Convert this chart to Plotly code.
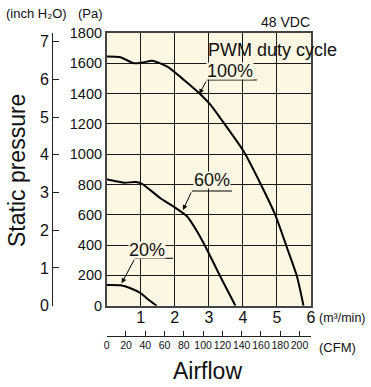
import plotly.graph_objects as go

# airflow (m3/min) and static pressure (Pa)
flow_100 = [0.0, 0.4, 0.8, 1.05, 1.34, 1.78, 2.27, 2.72, 3.05, 3.34, 4.03, 4.51, 4.95, 5.3, 5.59, 5.78]
pa_100 = [1645, 1640, 1600, 1605, 1617, 1578, 1490, 1402, 1325, 1237, 1016, 808, 599, 379, 191, 0]

flow_60 = [0.0, 0.25, 0.51, 0.86, 1.05, 1.58, 1.97, 2.37, 2.66, 2.95, 3.34, 3.78]
pa_60 = [834, 822, 812, 816, 803, 709, 653, 587, 488, 368, 191, 0]

flow_20 = [0.0, 0.41, 0.7, 1.0, 1.24, 1.47]
pa_20 = [137, 135, 115, 82, 38, 0]

pa_ticks = [0, 200, 400, 600, 800, 1000, 1200, 1400, 1600, 1800]
inch_ticks = [0, 1, 2, 3, 4, 5, 6, 7]
m3_ticks = [1, 2, 3, 4, 5, 6]
cfm_ticks = [0, 20, 40, 60, 80, 100, 120, 140, 160, 180, 200]

PA_PER_INCH = 249.089
M3_PER_CFM = 0.0283168

CREAM = '#fcf7e3'
SANS = 'Liberation Sans, Arial, sans-serif'

W, H = 371, 387
ML, MR, MT, MB = 45, 60, 33, 20
PW, PH = W - ML - MR, H - MT - MB


def px(x):
    return (x - ML) / PW


def py(y):
    return (H - MB - y) / PH


fig = go.Figure()
for fx, fy in [(flow_100, pa_100), (flow_60, pa_60), (flow_20, pa_20)]:
    fig.add_trace(go.Scatter(x=fx, y=fy, mode='lines', line=dict(color='black', width=2, shape='spline', smoothing=0.6),
                             hoverinfo='skip'))

# empty traces so the CFM axis (x2/y3) and the inch H2O axis (x3/y2) get drawn
fig.add_trace(go.Scatter(x=[None], y=[None], xaxis='x2', yaxis='y3', hoverinfo='skip'))
fig.add_trace(go.Scatter(x=[None], y=[None], xaxis='x3', yaxis='y2', hoverinfo='skip'))

x0 = (106.7 - ML) / PW
y0 = (H - MB - 305.7) / PH
xin = px(53)
ycfm = py(335.7)
TINY = 0.0005

fig.update_layout(
    width=W, height=H,
    margin=dict(l=ML, r=MR, t=MT, b=MB),
    paper_bgcolor='white', plot_bgcolor=CREAM,
    showlegend=False,
    xaxis=dict(domain=[x0, 1], range=[0, 6], tickvals=m3_ticks, showgrid=True, gridcolor='#1a1a1a', gridwidth=1,
               showline=True, linecolor='#444', linewidth=1.5, mirror=True, zeroline=False, ticks='',
               tickfont=dict(family=SANS, size=16, color='#111'), ticklabelstandoff=-4),
    yaxis=dict(domain=[y0, 1], range=[0, 1800], tickvals=pa_ticks, showgrid=True, gridcolor='#1a1a1a', gridwidth=1,
               showline=True, linecolor='#444', linewidth=1.5, mirror=True, zeroline=False, ticks='',
               tickfont=dict(family=SANS, size=14.5, color='#111')),
    # CFM axis
    xaxis2=dict(anchor='y3', domain=[x0, 1], range=[0, 6 / M3_PER_CFM], tickvals=cfm_ticks, side='bottom',
                showgrid=False, zeroline=False, showline=True, linecolor='#222', linewidth=1,
                ticks='inside', ticklen=5, tickcolor='#222', tickangle=0,
                tickfont=dict(family=SANS, size=10.5, color='#111')),
    yaxis3=dict(anchor='x2', domain=[ycfm, ycfm + TINY], visible=False, range=[0, 1]),
    # inch H2O axis
    yaxis2=dict(anchor='x3', domain=[y0, 1], side='left', range=[0, 1800 / PA_PER_INCH], tickvals=inch_ticks,
                showgrid=False, zeroline=False, showline=True, linecolor='#222', linewidth=1,
                ticks='inside', ticklen=6, tickcolor='#222',
                tickfont=dict(family=SANS, size=16, color='#111')),
    xaxis3=dict(anchor='y2', domain=[xin, xin + TINY], visible=False, range=[0, 1]),
)

# underline + arrow for each duty cycle label (data coords)
labels = [
    ('100%', 3.62, 1551, 2.94, 4.41, 1490, 2.72, 1397),
    ('60%', 3.10, 828, 2.50, 3.68, 757, 2.24, 631),
    ('20%', 1.19, 370, 0.83, 1.95, 313, 0.44, 148),
]
for txt, tx, ty, ux0, ux1, uy, ax_tip, ay_tip in labels:
    fig.add_shape(type='line', x0=ux0, x1=ux1, y0=uy, y1=uy, xref='x', yref='y', line=dict(color='black', width=1))
    fig.add_annotation(x=ax_tip, y=ay_tip, ax=ux0, ay=uy, axref='x', ayref='y', xref='x', yref='y', text='',
                       showarrow=True, arrowhead=2, arrowsize=1, arrowwidth=1, arrowcolor='black')
    # short box so the cream background hides the grid but not the underline
    fig.add_annotation(x=tx, y=ty, xref='x', yref='y', text=txt, showarrow=False, bgcolor=CREAM, borderpad=0,
                       height=16, font=dict(family=SANS, size=18, color='#111'))

ann = [
    ('PWM duty cycle', 206, 50, 'left', 18, 0),
    ('48 VDC', 285, 22, 'center', 14, 0),
    ('(inch H₂O)', 36, 14, 'center', 13, 0),
    ('(Pa)', 90, 14, 'center', 13, 0),
    ('(m³/min)', 317, 318, 'left', 12.5, 0),
    ('(CFM)', 337, 347, 'center', 13, 0),
    ('Airflow', 207, 371, 'center', 23, 0),
    ('Static pressure', 17, 171, 'center', 23, -90),
]
for txt, x, y, al, sz, rot in ann:
    fig.add_annotation(x=px(x), y=py(y), xref='paper', yref='paper', text=txt, showarrow=False,
                       xanchor=al, yanchor='middle', textangle=rot, font=dict(family=SANS, size=sz, color='#111'))

# drop the default 8px body margin so the figure sits at the window's corner
fig.write_html("out.html", config={'displayModeBar': False},
               post_script="document.body.style.margin='0';")
